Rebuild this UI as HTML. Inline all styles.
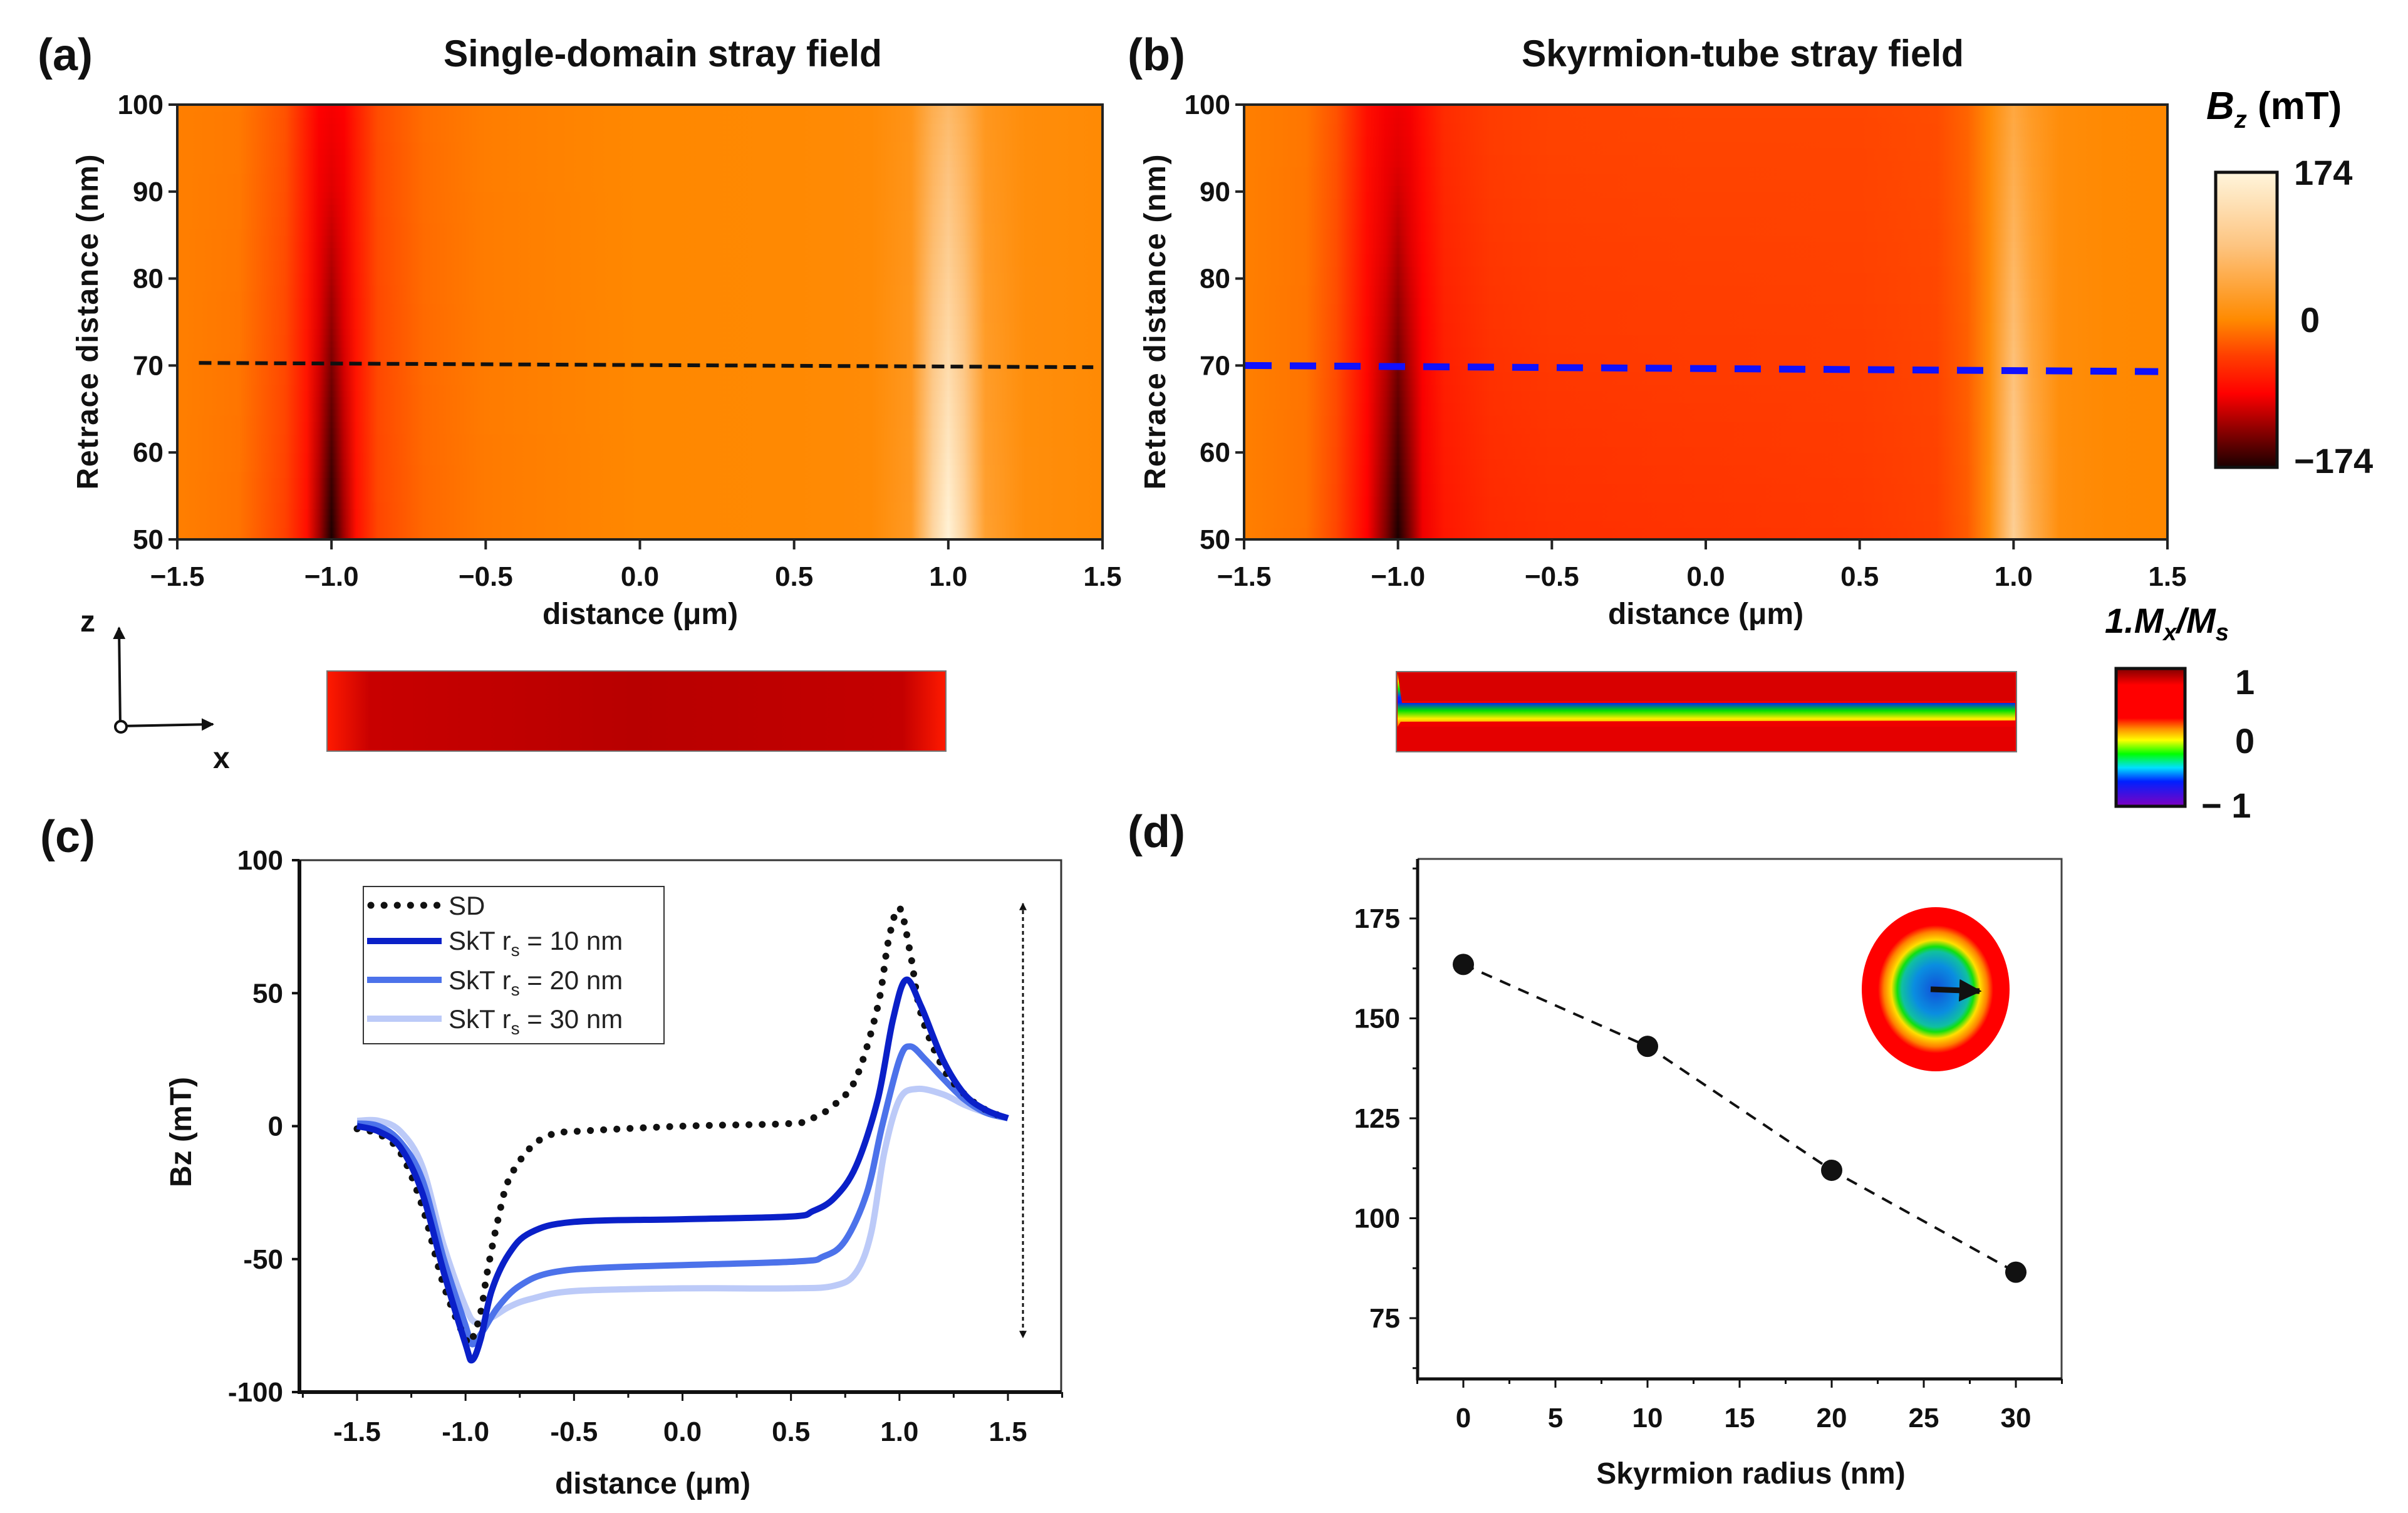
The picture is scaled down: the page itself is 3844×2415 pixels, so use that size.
<!DOCTYPE html>
<html><head><meta charset="utf-8"><title>Stray field figure</title>
<style>
html,body{margin:0;padding:0;background:#fff;}
svg{display:block;font-family:"Liberation Sans",Arial,sans-serif;}
.tk{font-size:44px;font-weight:bold;fill:#111;}
.ttl{font-size:60px;font-weight:bold;fill:#111;}
.pl{font-size:72px;font-weight:bold;fill:#111;}
.al{font-size:48px;font-weight:bold;fill:#111;}
.cb{font-size:56px;font-weight:bold;fill:#111;}
.lg{font-size:42px;fill:#222;}
</style></head>
<body>
<svg id="fig" width="3844" height="2415" viewBox="0 0 3844 2415" xmlns="http://www.w3.org/2000/svg">
<defs>
 <linearGradient id="cbar1" x1="0" y1="0" x2="0" y2="1">
  <stop offset="0" stop-color="#fff5dc"/><stop offset="0.25" stop-color="#fdc480"/><stop offset="0.5" stop-color="#ff8a00"/>
  <stop offset="0.62" stop-color="#ff4000"/><stop offset="0.75" stop-color="#ff0000"/><stop offset="0.87" stop-color="#900000"/><stop offset="1" stop-color="#1a0000"/>
 </linearGradient>
 <linearGradient id="cbar2" x1="0" y1="0" x2="0" y2="1">
  <stop offset="0" stop-color="#800000"/><stop offset="0.12" stop-color="#ff0000"/><stop offset="0.36" stop-color="#ff0000"/>
  <stop offset="0.44" stop-color="#ff9000"/><stop offset="0.52" stop-color="#ffff00"/><stop offset="0.62" stop-color="#00ff00"/>
  <stop offset="0.72" stop-color="#00e0ff"/><stop offset="0.82" stop-color="#0020ff"/><stop offset="1" stop-color="#8000c0"/>
 </linearGradient>
 <linearGradient id="stripA" x1="0" y1="0" x2="1" y2="0">
  <stop offset="0" stop-color="#ff1a00"/><stop offset="0.07" stop-color="#c80000"/><stop offset="0.5" stop-color="#b80000"/><stop offset="0.93" stop-color="#c40000"/><stop offset="1" stop-color="#ff1a00"/>
 </linearGradient>
 <linearGradient id="bandB" x1="0" y1="0" x2="0" y2="1">
  <stop offset="0" stop-color="#ff8000"/><stop offset="0.15" stop-color="#ffee00"/><stop offset="0.3" stop-color="#00ee00"/><stop offset="0.45" stop-color="#0030ff"/>
  <stop offset="0.55" stop-color="#0020ff"/><stop offset="0.7" stop-color="#00e000"/><stop offset="0.85" stop-color="#ffee00"/><stop offset="1" stop-color="#ff6000"/>
 </linearGradient>
 <radialGradient id="skx" cx="0.5" cy="0.5" r="0.5">
  <stop offset="0" stop-color="#1050d8"/><stop offset="0.3" stop-color="#0a8ee0"/><stop offset="0.46" stop-color="#10c0a0"/><stop offset="0.52" stop-color="#10e010"/>
  <stop offset="0.6" stop-color="#ffe000"/><stop offset="0.7" stop-color="#ff8000"/><stop offset="0.78" stop-color="#ff0000"/><stop offset="1" stop-color="#ff0000"/>
 </radialGradient>
 <marker id="ah" viewBox="0 0 10 10" refX="9" refY="5" markerWidth="5" markerHeight="5" orient="auto-start-reverse"><path d="M0,0 L10,5 L0,10 z" fill="#111"/></marker>
 <marker id="ah2" viewBox="0 0 10 10" refX="9" refY="5" markerWidth="4" markerHeight="4" orient="auto-start-reverse"><path d="M0,0 L10,5 L0,10 z" fill="#111"/></marker>
</defs>

<text class="pl" x="60" y="112">(a)</text>
<text class="ttl" x="1058" y="106" text-anchor="middle" textLength="700" lengthAdjust="spacingAndGlyphs">Single-domain stray field</text>
<text class="pl" x="1800" y="112">(b)</text>
<text class="ttl" x="2782" y="106" text-anchor="middle" textLength="706" lengthAdjust="spacingAndGlyphs">Skyrmion-tube stray field</text>
<text class="pl" x="64" y="1360">(c)</text>
<text class="pl" x="1800" y="1352">(d)</text>

<g id="heatA"></g>
<g id="heatB"></g>
<g id="axA"></g>
<g id="axB"></g>

<text class="al" x="1022" y="996" text-anchor="middle">distance (μm)</text>
<text class="al" transform="translate(156,514) rotate(-90)" text-anchor="middle" textLength="535">Retrace distance (nm)</text>
<text class="al" x="2723" y="996" text-anchor="middle">distance (μm)</text>
<text class="al" transform="translate(1860,514) rotate(-90)" text-anchor="middle" textLength="535">Retrace distance (nm)</text>

<g>
 <text x="3522" y="190" style="font-size:62px;font-weight:bold;font-style:italic">B<tspan style="font-size:40px" dy="14">z</tspan><tspan dy="-14" style="font-style:normal"> (mT)</tspan></text>
 <rect x="3537" y="275" width="98" height="471" fill="url(#cbar1)" stroke="#111" stroke-width="5"/>
 <text class="cb" x="3662" y="295">174</text>
 <text class="cb" x="3672" y="530">0</text>
 <text class="cb" x="3662" y="755">−174</text>
</g>

<g>
 <text x="3360" y="1010" style="font-size:56px;font-weight:bold;font-style:italic">1.M<tspan style="font-size:38px" dy="12">x</tspan><tspan dy="-12">/M</tspan><tspan style="font-size:38px" dy="12">s</tspan></text>
 <rect x="3378" y="1067" width="110" height="220" fill="url(#cbar2)" stroke="#111" stroke-width="5"/>
 <text class="cb" x="3568" y="1108">1</text>
 <text class="cb" x="3568" y="1202">0</text>
 <text class="cb" x="3514" y="1305">− 1</text>
</g>

<g>
 <line x1="192" y1="1159" x2="190" y2="1002" stroke="#111" stroke-width="4" marker-end="url(#ah)"/>
 <line x1="192" y1="1159" x2="340" y2="1156" stroke="#111" stroke-width="4" marker-end="url(#ah)"/>
 <circle cx="193" cy="1160" r="9" fill="#fff" stroke="#111" stroke-width="4"/>
 <text class="al" x="128" y="1008">z</text>
 <text class="al" x="340" y="1226">x</text>
</g>

<rect x="522" y="1071" width="988" height="128" fill="url(#stripA)" stroke="#777" stroke-width="2"/>
<g>
 <rect x="2229" y="1072" width="990" height="128" fill="#ee0000" stroke="#777" stroke-width="2"/>
 <rect x="2231" y="1074" width="986" height="45" fill="#d80000"/>
 <path d="M2231,1074 L2238,1122 L3217,1122 L3217,1150 L2236,1152 L2231,1160 Z" fill="url(#bandB)"/>
 <rect x="2231" y="1160" width="986" height="38" fill="#dd0000" opacity="0.6"/>
</g>

<g id="axC"></g>
<g id="plotC"></g>
<text class="al" x="1042" y="2384" text-anchor="middle">distance (μm)</text>
<text class="al" transform="translate(305,1807) rotate(-90)" text-anchor="middle">Bz (mT)</text>

<g>
 <rect x="580" y="1415" width="480" height="251" fill="#fff" stroke="#333" stroke-width="2"/>
 <g>
  <line x1="592" y1="1445" x2="700" y2="1445" stroke="#111" stroke-width="11" stroke-linecap="round" stroke-dasharray="0.1 21"/>
  <text class="lg" x="716" y="1460">SD</text></g>
 <g>
  <line x1="586" y1="1502" x2="705" y2="1502" stroke="#0a20c8" stroke-width="10"/>
  <text class="lg" x="716" y="1516">SkT r<tspan style="font-size:28px" dy="10">s</tspan><tspan dy="-10"> = 10 nm</tspan></text></g>
 <g>
  <line x1="586" y1="1564" x2="705" y2="1564" stroke="#4c72ea" stroke-width="10"/>
  <text class="lg" x="716" y="1579">SkT r<tspan style="font-size:28px" dy="10">s</tspan><tspan dy="-10"> = 20 nm</tspan></text></g>
 <g>
  <line x1="586" y1="1626" x2="705" y2="1626" stroke="#bccaf8" stroke-width="10"/>
  <text class="lg" x="716" y="1641">SkT r<tspan style="font-size:28px" dy="10">s</tspan><tspan dy="-10"> = 30 nm</tspan></text></g>
</g>
<line x1="1633" y1="1442" x2="1633" y2="2135" stroke="#111" stroke-width="3" stroke-dasharray="6 5" marker-start="url(#ah2)" marker-end="url(#ah2)"/>

<g id="axD"></g>
<g id="plotD"></g>
<text class="al" x="2795" y="2368" text-anchor="middle">Skyrmion radius (nm)</text>
<g>
 <ellipse cx="3090" cy="1579" rx="118" ry="131" fill="url(#skx)"/>
 <line x1="3082" y1="1579" x2="3160" y2="1582" stroke="#111" stroke-width="9" marker-end="url(#ah2)"/>
</g>
</svg>

<script>
// ---------- data: panel (a) heatmap ----------
const xsA = [-1.5,-1.3,-1.15,-1.08,-1.04,-1.0,-0.96,-0.92,-0.85,-0.7,-0.5,0,0.5,0.75,0.88,0.95,1.0,1.05,1.12,1.25,1.5];
const botA = [-5,-12,-45,-80,-130,-174,-130,-80,-40,-18,-8,0,2,5,30,120,170,120,40,10,3];
const topA = [-5,-8,-30,-70,-90,-95,-90,-70,-35,-15,-6,0,2,5,20,60,75,60,25,8,3];
// ---------- data: panel (b) heatmap ----------
const xsB = [-1.5,-1.3,-1.2,-1.1,-1.04,-1.0,-0.96,-0.92,-0.85,-0.7,-0.5,0,0.5,0.75,0.85,0.92,1.0,1.06,1.15,1.3,1.5];
const botB = [-5,-12,-40,-90,-140,-174,-140,-100,-75,-62,-58,-55,-52,-45,-25,10,110,60,10,2,0];
const topB = [-5,-10,-30,-80,-95,-100,-95,-80,-60,-48,-42,-40,-40,-35,-20,5,50,30,8,2,0];
const xTicksHM = [-1.5,-1.0,-0.5,0.0,0.5,1.0,1.5];
const xTickLabelsHM = ["−1.5","−1.0","−0.5","0.0","0.5","1.0","1.5"];
const zTicks = [50,60,70,80,90,100];
// ---------- data: panel (c) ----------
const xsSD = [-1.5,-1.4,-1.3,-1.2,-1.1,-1.0,-0.97,-0.93,-0.9,-0.85,-0.8,-0.7,-0.6,-0.5,0,0.5,0.6,0.7,0.8,0.9,0.95,1.0,1.05,1.1,1.2,1.3,1.4,1.5];
const ySD  = [-1,-3,-10,-30,-60,-80,-80,-70,-55,-35,-20,-8,-3,-2,0,1,3,8,18,45,70,82,65,42,22,12,6,3];
const xsR10 = [-1.5,-1.4,-1.3,-1.2,-1.1,-1.0,-0.97,-0.93,-0.88,-0.8,-0.7,-0.5,0,0.5,0.6,0.7,0.8,0.9,0.97,1.03,1.1,1.2,1.3,1.4,1.5];
const yR10  = [0,-2,-8,-25,-55,-82,-88,-80,-62,-48,-40,-36,-35,-34,-32,-27,-15,10,40,55,45,25,12,6,3];
const xsR20 = [-1.5,-1.4,-1.3,-1.2,-1.1,-1.0,-0.97,-0.92,-0.85,-0.75,-0.6,-0.3,0.5,0.65,0.75,0.85,0.92,1.0,1.05,1.12,1.2,1.3,1.4,1.5];
const yR20  = [1,0,-6,-20,-50,-75,-82,-77,-68,-60,-55,-53,-51,-49,-43,-25,0,25,30,25,18,10,5,3];
const xsR30 = [-1.5,-1.4,-1.3,-1.2,-1.1,-1.0,-0.95,-0.88,-0.8,-0.7,-0.5,0,0.5,0.7,0.8,0.87,0.93,1.0,1.08,1.2,1.3,1.4,1.5];
const yR30  = [2,2,-2,-15,-45,-68,-74,-72,-68,-65,-62,-61,-61,-60,-55,-40,-10,10,14,12,8,5,3];
const xTicksC = [-1.5,-1.0,-0.5,0.0,0.5,1.0,1.5];
const xTickLabelsC = ["-1.5","-1.0","-0.5","0.0","0.5","1.0","1.5"];
const yTicksC = [-100,-50,0,50,100];
const yTickLabelsC = ["-100","-50","0","50","100"];
// ---------- data: panel (d) ----------
const radiusD = [0,10,20,30];
const valueD = [163.5,143,112,86.5];
const xTicksD = [0,5,10,15,20,25,30];
const yTicksD = [75,100,125,150,175];

const NS = "http://www.w3.org/2000/svg";
function el(tag, parent){ const e=document.createElementNS(NS,tag); parent.appendChild(e); return e; }
function lin(d0,d1,r0,r1){ return v => r0 + (v-d0)/(d1-d0)*(r1-r0); }

const CMV = [-174,-140,-110,-90,-50,-30,0,40,90,174];
const CMC = [[26,0,0],[128,0,0],[224,0,0],[255,0,0],[255,58,0],[255,82,0],[255,136,0],[255,160,48],[253,196,128],[255,245,220]];
function cmap(v){
  if(v<=CMV[0]) return "rgb("+CMC[0]+")";
  for(let i=1;i<CMV.length;i++){ if(v<=CMV[i]){ const t=(v-CMV[i-1])/(CMV[i]-CMV[i-1]);
    const c=CMC[i-1].map((a,k)=>Math.round(a+(CMC[i][k]-a)*t)); return "rgb("+c.join(",")+")"; } }
  return "rgb("+CMC[CMC.length-1]+")";
}
const defs = document.querySelector("defs");

function heatmap(gid, xs, bot, top, X0, X1, Y0, Y1, id){
  const g = document.getElementById(gid);
  const NR = 70; const zs = lin(50,100,Y0,Y1);
  for(let r=0;r<NR;r++){
    const t=(r+0.5)/NR;
    const lg = el("linearGradient", defs);
    lg.setAttribute("id", id+"r"+r); lg.setAttribute("x1","0"); lg.setAttribute("x2","1"); lg.setAttribute("y1","0"); lg.setAttribute("y2","0");
    xs.forEach((x,i)=>{ const s=el("stop",lg); s.setAttribute("offset",((x+1.5)/3).toFixed(4)); s.setAttribute("stop-color",cmap(bot[i]*(1-t)+top[i]*t)); });
    const rc = el("rect", g);
    
    
    const za=50+r*50/NR, zb=50+(r+1)*50/NR;
    rc.setAttribute("x",X0); rc.setAttribute("width",X1-X0);
    rc.setAttribute("y",zs(zb)); rc.setAttribute("height",zs(za)-zs(zb)+1);
    rc.setAttribute("fill","url(#"+id+"r"+r+")");
  }
}
function hmAxes(gid, X0, X1, Y0, Y1, tag){
  const g=document.getElementById(gid);
  const xs=lin(-1.5,1.5,X0,X1), zs=lin(50,100,Y0,Y1);
  const fr=el("rect",g);
  
  
  fr.setAttribute("x",X0); fr.setAttribute("y",Y1); fr.setAttribute("width",X1-X0); fr.setAttribute("height",Y0-Y1);
  fr.setAttribute("fill","none"); fr.setAttribute("stroke","#222"); fr.setAttribute("stroke-width","4");
  xTicksHM.forEach((v,i)=>{
    const l=el("line",g);
    
    
    l.setAttribute("x1",xs(v)); l.setAttribute("x2",xs(v)); l.setAttribute("y1",Y0); l.setAttribute("y2",Y0+16); l.setAttribute("stroke","#222"); l.setAttribute("stroke-width","4");
    const t=el("text",g);
    
    
    t.setAttribute("class","tk"); t.setAttribute("x",xs(v)); t.setAttribute("y",Y0+74); t.setAttribute("text-anchor","middle"); t.textContent=xTickLabelsHM[i];
  });
  zTicks.forEach(v=>{
    const l=el("line",g);
    
    
    l.setAttribute("x1",X0-14); l.setAttribute("x2",X0); l.setAttribute("y1",zs(v)); l.setAttribute("y2",zs(v)); l.setAttribute("stroke","#222"); l.setAttribute("stroke-width","4");
    const t=el("text",g);
    
    
    t.setAttribute("class","tk"); t.setAttribute("x",X0-22); t.setAttribute("y",zs(v)+15); t.setAttribute("text-anchor","end"); t.textContent=String(v);
  });
}
heatmap("heatA", xsA, botA, topA, 283, 1760, 861, 167, "ha");
heatmap("heatB", xsB, botB, topB, 1986, 3460, 861, 167, "hb");
hmAxes("axA", 283, 1760, 861, 167, "a");
hmAxes("axB", 1986, 3460, 861, 167, "b");
(function(){
  const xa=lin(-1.5,1.5,283,1760), za=lin(50,100,861,167);
  const la=el("line",document.getElementById("axA"));
  
  
  la.setAttribute("x1",xa(-1.43)); la.setAttribute("y1",za(70.3)); la.setAttribute("x2",xa(1.47)); la.setAttribute("y2",za(69.8));
  la.setAttribute("stroke","#111"); la.setAttribute("stroke-width","6"); la.setAttribute("stroke-dasharray","20 10");
  const xb=lin(-1.5,1.5,1986,3460);
  const lb=el("line",document.getElementById("axB"));
  
  
  lb.setAttribute("x1",xb(-1.5)+2); lb.setAttribute("y1",za(70)); lb.setAttribute("x2",xb(1.47)); lb.setAttribute("y2",za(69.3));
  lb.setAttribute("stroke","#1010ff"); lb.setAttribute("stroke-width","11"); lb.setAttribute("stroke-dasharray","42 29");
})();

const cx = lin(-1.5,1.5,570,1609), cy = lin(-100,100,2222,1373);
(function(){
  const g=document.getElementById("axC");
  const L=478,R=1694,T=1373,B=2222;
  const f=el("path",g);
  
  
  f.setAttribute("d",`M${L},${T} H${R} V${B}`); f.setAttribute("fill","none"); f.setAttribute("stroke","#333"); f.setAttribute("stroke-width","3");
  const ax=el("path",g);
  
  
  ax.setAttribute("d",`M${L},${T} V${B} H${R}`); ax.setAttribute("fill","none"); ax.setAttribute("stroke","#111"); ax.setAttribute("stroke-width","6");
  for(let k=-7; k<=7; k++){
    const v=k*0.25;
    const major = xTicksC.some(m=>Math.abs(m-v)<1e-6);
    const l=el("line",g);
    
    
    l.setAttribute("x1",cx(v)); l.setAttribute("x2",cx(v)); l.setAttribute("y1",B); l.setAttribute("y2",B+(major?14:9)); l.setAttribute("stroke","#111"); l.setAttribute("stroke-width","3");
  }
  xTicksC.forEach((v,i)=>{
    const t=el("text",g);
    
    
    t.setAttribute("class","tk"); t.setAttribute("x",cx(v)); t.setAttribute("y",2300); t.setAttribute("text-anchor","middle"); t.textContent=xTickLabelsC[i];
  });
  yTicksC.forEach((v,i)=>{
    const l=el("line",g);
    
    
    l.setAttribute("x1",L-12); l.setAttribute("x2",L); l.setAttribute("y1",cy(v)); l.setAttribute("y2",cy(v)); l.setAttribute("stroke","#111"); l.setAttribute("stroke-width","4");
    const t=el("text",g);
    
    
    t.setAttribute("class","tk"); t.setAttribute("x",L-26); t.setAttribute("y",cy(v)+15); t.setAttribute("text-anchor","end"); t.textContent=yTickLabelsC[i];
  });
})();
function smoothPath(xs, ys){
  const p = xs.map((x,i)=>[cx(x),cy(ys[i])]);
  let d=`M${p[0][0]},${p[0][1]}`;
  for(let i=0;i<p.length-1;i++){
    const p0=p[Math.max(0,i-1)], p1=p[i], p2=p[i+1], p3=p[Math.min(p.length-1,i+2)];
    const c1=[p1[0]+(p2[0]-p0[0])/6, p1[1]+(p2[1]-p0[1])/6];
    const c2=[p2[0]-(p3[0]-p1[0])/6, p2[1]-(p3[1]-p1[1])/6];
    d+=` C${c1[0].toFixed(1)},${c1[1].toFixed(1)} ${c2[0].toFixed(1)},${c2[1].toFixed(1)} ${p2[0].toFixed(1)},${p2[1].toFixed(1)}`;
  }
  return d;
}
(function(){
  const g=document.getElementById("plotC");
  const s30=el("path",g);
  
  
  s30.setAttribute("d",smoothPath(xsR30,yR30)); s30.setAttribute("fill","none"); s30.setAttribute("stroke","#bccaf8"); s30.setAttribute("stroke-width","10");
  const s20=el("path",g);
  
  
  s20.setAttribute("d",smoothPath(xsR20,yR20)); s20.setAttribute("fill","none"); s20.setAttribute("stroke","#4c72ea"); s20.setAttribute("stroke-width","10");
  const sd=el("path",g);
  
  
  sd.setAttribute("d",smoothPath(xsSD,ySD)); sd.setAttribute("fill","none"); sd.setAttribute("stroke","#111"); sd.setAttribute("stroke-width","11"); sd.setAttribute("stroke-linecap","round"); sd.setAttribute("stroke-dasharray","0.1 21");
  const s10=el("path",g);
  
  
  s10.setAttribute("d",smoothPath(xsR10,yR10)); s10.setAttribute("fill","none"); s10.setAttribute("stroke","#0a20c8"); s10.setAttribute("stroke-width","10");
})();

const dx = lin(0,30,2336,3218), dy = lin(75,175,2104,1466);
(function(){
  const g=document.getElementById("axD");
  const L=2263,R=3291,T=1371,B=2201;
  const f=el("path",g);
  
  
  f.setAttribute("d",`M${L},${T} H${R} V${B}`); f.setAttribute("fill","none"); f.setAttribute("stroke","#444"); f.setAttribute("stroke-width","3");
  const ax=el("path",g);
  
  
  ax.setAttribute("d",`M${L},${T} V${B} H${R}`); ax.setAttribute("fill","none"); ax.setAttribute("stroke","#111"); ax.setAttribute("stroke-width","5");
  for(let k=-1; k<=13; k++){
    const v=k*2.5;
    const major = xTicksD.includes(v);
    const l=el("line",g);
    
    
    l.setAttribute("x1",dx(v)); l.setAttribute("x2",dx(v)); l.setAttribute("y1",B); l.setAttribute("y2",B+(major?14:8)); l.setAttribute("stroke","#111"); l.setAttribute("stroke-width","3");
  }
  xTicksD.forEach(v=>{
    const t=el("text",g);
    
    
    t.setAttribute("class","tk"); t.setAttribute("x",dx(v)); t.setAttribute("y",2278); t.setAttribute("text-anchor","middle"); t.textContent=String(v);
  });
  for(let k=5; k<=15; k++){
    const v=k*12.5;
    const major = yTicksD.includes(v);
    const l=el("line",g);
    
    
    l.setAttribute("x1",L-(major?13:8)); l.setAttribute("x2",L); l.setAttribute("y1",dy(v)); l.setAttribute("y2",dy(v)); l.setAttribute("stroke","#111"); l.setAttribute("stroke-width","3");
  }
  yTicksD.forEach(v=>{
    const t=el("text",g);
    
    
    t.setAttribute("class","tk"); t.setAttribute("x",L-28); t.setAttribute("y",dy(v)+15); t.setAttribute("text-anchor","end"); t.textContent=String(v);
  });
  const pg=document.getElementById("plotD");
  const pl=el("polyline",pg);
  
  
  pl.setAttribute("points",radiusD.map((r,i)=>dx(r)+","+dy(valueD[i])).join(" "));
  pl.setAttribute("fill","none"); pl.setAttribute("stroke","#111"); pl.setAttribute("stroke-width","4"); pl.setAttribute("stroke-dasharray","18 14");
  radiusD.forEach((r,i)=>{
    const c=el("circle",pg);
    
    
    c.setAttribute("cx",dx(r)); c.setAttribute("cy",dy(valueD[i])); c.setAttribute("r","17"); c.setAttribute("fill","#111");
  });
})();
</script>
</body></html>
